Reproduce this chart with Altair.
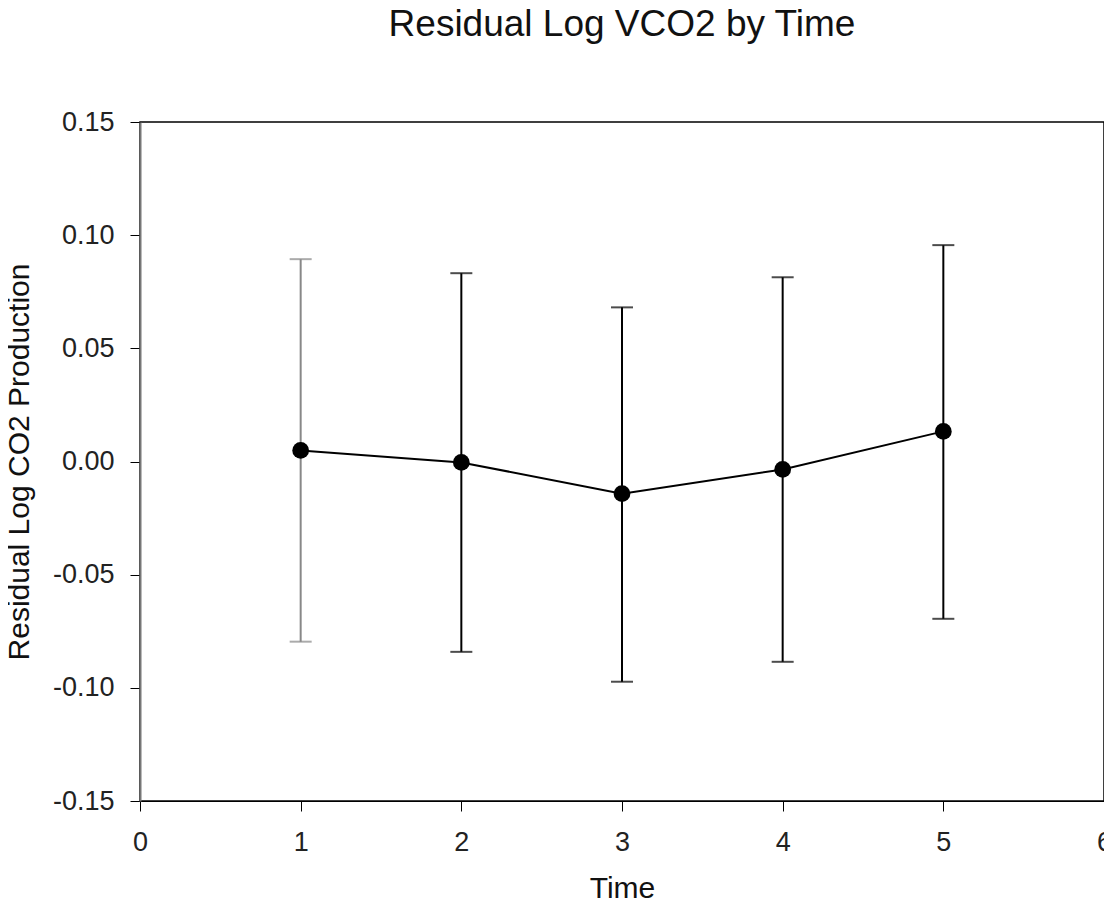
import altair as alt
import pandas as pd

time = [1, 2, 3, 4, 5]
mean = [0.0049, -0.0004, -0.0142, -0.0035, 0.0133]
upper = [0.0894, 0.0832, 0.0681, 0.0814, 0.0956]
lower = [-0.0796, -0.0841, -0.0973, -0.0885, -0.0695]

df = pd.DataFrame({"time": time, "mean": mean, "upper": upper, "lower": lower})

FONT = "Liberation Sans"

x = alt.X("time:Q", scale=alt.Scale(domain=[0, 6], nice=False),
          axis=alt.Axis(values=[0, 1, 2, 3, 4, 5, 6], title="Time", domainColor="black",
                        titlePadding=18, labelPadding=18, labelFlush=False))
y = alt.Y("mean:Q", scale=alt.Scale(domain=[-0.15, 0.15], nice=False),
          axis=alt.Axis(values=[-0.15, -0.10, -0.05, 0.0, 0.05, 0.10, 0.15],
                        labelExpr="replace(format(datum.value, '.2f'), '\u2212', '-')",
                        title="Residual Log CO2 Production", domainColor="#777", domainWidth=2,
                        titlePadding=18, labelPadding=16, labelFlush=False))
ylow = alt.Y("lower:Q", scale=alt.Scale(domain=[-0.15, 0.15], nice=False), title="Residual Log CO2 Production")
yup = alt.Y("upper:Q", scale=alt.Scale(domain=[-0.15, 0.15], nice=False), title="Residual Log CO2 Production")

bar_color = alt.condition(alt.datum.time == 1, alt.value("#888888"), alt.value("black"))

base = alt.Chart(df)
line = base.mark_line(color="black", strokeWidth=2).encode(x=x, y=y)
rules = base.mark_rule(strokeWidth=2).encode(x=x, y=ylow, y2="upper:Q", color=bar_color)
caps_hi = base.mark_tick(orient="horizontal", size=22, thickness=2).encode(x=x, y=yup, color=bar_color)
caps_lo = base.mark_tick(orient="horizontal", size=22, thickness=2).encode(x=x, y=ylow, color=bar_color)
pts = base.mark_point(filled=True, color="black", opacity=1, size=280).encode(x=x, y=y)

chart = alt.layer(line, rules, caps_hi, caps_lo, pts).properties(
    width=964, height=679,
    autosize=alt.AutoSizeParams(type="none"),
    padding={"left": 132, "top": 114, "right": 0, "bottom": 100},
    title=alt.TitleParams("Residual Log VCO2 by Time", fontSize=37, font=FONT,
                          fontWeight="normal", color="#111", offset=64, anchor="middle"),
).configure_view(stroke="black", strokeWidth=1.5).configure_axis(
    grid=False, tickSize=10, tickColor="black",
    labelFontSize=27, titleFontSize=30,
    labelColor="#222", titleColor="#111", labelFont=FONT, titleFont=FONT,
    titleFontWeight="normal",
)

chart.save("out.html", embed_options={"renderer": "svg", "actions": False})
